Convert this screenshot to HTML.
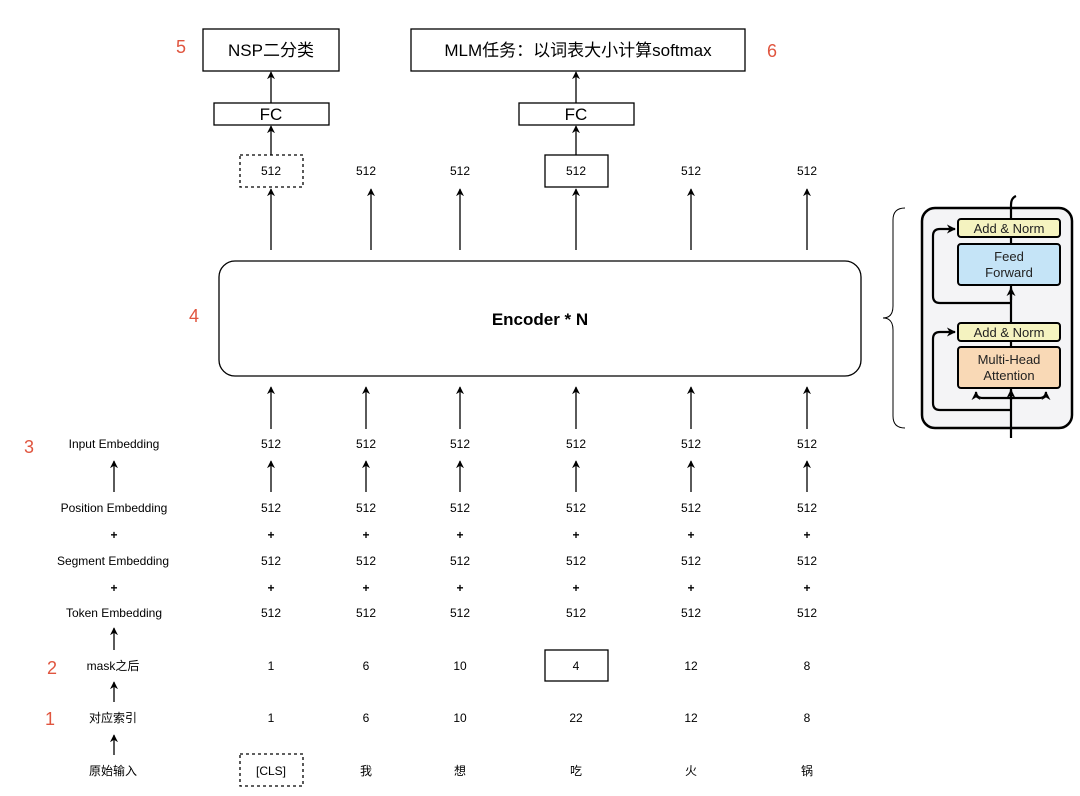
<!DOCTYPE html>
<html><head><meta charset="utf-8"><style>
html,body{margin:0;padding:0;background:#fff;}
svg{display:block;font-family:"Liberation Sans","Noto Sans CJK SC",sans-serif;}
</style></head><body>
<svg width="1080" height="796" viewBox="0 0 1080 796" xmlns="http://www.w3.org/2000/svg">
<defs>
<marker id="a" viewBox="0 0 10 10" refX="9" refY="5" markerWidth="8" markerHeight="8" orient="auto" markerUnits="userSpaceOnUse">
<path d="M0,0 L10,5 L0,10 L3,5 z" fill="#000"/></marker>
<marker id="b" viewBox="0 0 10 10" refX="9" refY="5" markerWidth="9" markerHeight="9" orient="auto" markerUnits="userSpaceOnUse">
<path d="M0,0 L10,5 L0,10 L3,5 z" fill="#000"/></marker>
</defs>
<g fill="#e0553f" font-size="18">
<text x="181" y="53" text-anchor="middle">5</text>
<text x="772" y="57" text-anchor="middle">6</text>
<text x="194" y="322" text-anchor="middle">4</text>
<text x="29" y="453" text-anchor="middle">3</text>
<text x="52" y="674" text-anchor="middle">2</text>
<text x="50" y="725" text-anchor="middle">1</text>
</g>
<g fill="none" stroke="#000" stroke-width="1.3">
<rect x="203" y="29" width="136" height="42"/>
<rect x="411" y="29" width="334" height="42"/>
<rect x="214" y="103" width="115" height="22"/>
<rect x="519" y="103" width="115" height="22"/>
<rect x="240" y="155" width="63" height="32" stroke-dasharray="3,3"/>
<rect x="545" y="155" width="63" height="32"/>
<rect x="219" y="261" width="642" height="115" rx="16"/>
<rect x="545" y="650" width="63" height="31"/>
<rect x="240" y="754" width="63" height="32" stroke-dasharray="3,3"/>
</g>
<g font-size="17" text-anchor="middle">
<text x="271" y="56">NSP二分类</text>
<text x="578" y="56">MLM任务：以词表大小计算softmax</text>
<text x="271" y="120">FC</text>
<text x="576" y="120">FC</text>
</g>
<text x="540" y="325" font-size="17" font-weight="bold" text-anchor="middle">Encoder * N</text>
<g stroke="#000" stroke-width="1.3" marker-end="url(#a)">
<line x1="271" y1="103" x2="271" y2="72"/>
<line x1="576" y1="103" x2="576" y2="72"/>
<line x1="271" y1="155" x2="271" y2="126"/>
<line x1="576" y1="155" x2="576" y2="126"/>
</g>
<g font-size="12" text-anchor="middle">
<text x="271" y="175">512</text><text x="366" y="175">512</text><text x="460" y="175">512</text><text x="576" y="175">512</text><text x="691" y="175">512</text><text x="807" y="175">512</text>
</g>
<g stroke="#000" stroke-width="1.3" marker-end="url(#a)">
<line x1="271" y1="250" x2="271" y2="189"/><line x1="371" y1="250" x2="371" y2="189"/><line x1="460" y1="250" x2="460" y2="189"/><line x1="576" y1="250" x2="576" y2="189"/><line x1="691" y1="250" x2="691" y2="189"/><line x1="807" y1="250" x2="807" y2="189"/>
<line x1="271" y1="429" x2="271" y2="387"/><line x1="366" y1="429" x2="366" y2="387"/><line x1="460" y1="429" x2="460" y2="387"/><line x1="576" y1="429" x2="576" y2="387"/><line x1="691" y1="429" x2="691" y2="387"/><line x1="807" y1="429" x2="807" y2="387"/>
<line x1="114" y1="492" x2="114" y2="461"/>
<line x1="271" y1="492" x2="271" y2="461"/><line x1="366" y1="492" x2="366" y2="461"/><line x1="460" y1="492" x2="460" y2="461"/><line x1="576" y1="492" x2="576" y2="461"/><line x1="691" y1="492" x2="691" y2="461"/><line x1="807" y1="492" x2="807" y2="461"/>
<line x1="114" y1="650" x2="114" y2="628"/>
<line x1="114" y1="702" x2="114" y2="682"/>
<line x1="114" y1="755" x2="114" y2="735"/>
</g>
<g font-size="12" text-anchor="middle">
<text x="114" y="448">Input Embedding</text>
<text x="114" y="512">Position Embedding</text>
<text x="114" y="539" font-weight="bold">+</text>
<text x="113" y="565">Segment Embedding</text>
<text x="114" y="592" font-weight="bold">+</text>
<text x="114" y="617">Token Embedding</text>
<text x="113" y="670">mask之后</text>
<text x="113" y="722">对应索引</text>
<text x="113" y="775">原始输入</text>
</g>
<g font-size="12" text-anchor="middle">
<g transform="translate(0,448)"><text x="271">512</text><text x="366">512</text><text x="460">512</text><text x="576">512</text><text x="691">512</text><text x="807">512</text></g>
<g transform="translate(0,512)"><text x="271">512</text><text x="366">512</text><text x="460">512</text><text x="576">512</text><text x="691">512</text><text x="807">512</text></g>
<g transform="translate(0,539)" font-weight="bold"><text x="271">+</text><text x="366">+</text><text x="460">+</text><text x="576">+</text><text x="691">+</text><text x="807">+</text></g>
<g transform="translate(0,565)"><text x="271">512</text><text x="366">512</text><text x="460">512</text><text x="576">512</text><text x="691">512</text><text x="807">512</text></g>
<g transform="translate(0,592)" font-weight="bold"><text x="271">+</text><text x="366">+</text><text x="460">+</text><text x="576">+</text><text x="691">+</text><text x="807">+</text></g>
<g transform="translate(0,617)"><text x="271">512</text><text x="366">512</text><text x="460">512</text><text x="576">512</text><text x="691">512</text><text x="807">512</text></g>
<g transform="translate(0,670)"><text x="271">1</text><text x="366">6</text><text x="460">10</text><text x="576">4</text><text x="691">12</text><text x="807">8</text></g>
<g transform="translate(0,722)"><text x="271">1</text><text x="366">6</text><text x="460">10</text><text x="576">22</text><text x="691">12</text><text x="807">8</text></g>
<g transform="translate(0,775)"><text x="271">[CLS]</text><text x="366">我</text><text x="460">想</text><text x="576">吃</text><text x="691">火</text><text x="807">锅</text></g>
</g>
<!-- brace -->
<path d="M905,208 Q893,208 893,220 L893,306 Q893,318 883,318 Q893,318 893,330 L893,416 Q893,428 905,428" fill="none" stroke="#000" stroke-width="1"/>
<!-- transformer block -->
<rect x="922" y="208" width="150" height="220" rx="13" fill="#f4f4f6" stroke="#000" stroke-width="2.5"/>
<g stroke="#000" stroke-width="2.2" fill="none">
<path d="M1011,438 L1011,205 Q1011,198 1016,196"/>
<path d="M1011,410 L940,410 Q933,410 933,403 L933,339 Q933,332 940,332 L955,332" marker-end="url(#b)"/>
<path d="M1011,303 L940,303 Q933,303 933,296 L933,236 Q933,229 940,229 L955,229" marker-end="url(#b)"/>
<path d="M1011,300 L1011,288" marker-end="url(#b)"/>
<path d="M1011,400 L1011,390" marker-end="url(#b)"/>
<path d="M1011,398 L983,398 Q976,398 976,392" marker-end="url(#b)"/>
<path d="M1011,398 L1039,398 Q1046,398 1046,392" marker-end="url(#b)"/>
</g>
<g stroke="#000" stroke-width="2">
<rect x="958" y="219" width="102" height="18" rx="3" fill="#f5f3c0"/>
<rect x="958" y="244" width="102" height="41" rx="3" fill="#c5e4f7"/>
<rect x="958" y="323" width="102" height="18" rx="3" fill="#f5f3c0"/>
<rect x="958" y="347" width="102" height="41" rx="3" fill="#f9d9b6"/>
</g>
<g font-size="13" text-anchor="middle" fill="#222">
<text x="1009" y="233">Add &amp; Norm</text>
<text x="1009" y="261">Feed</text>
<text x="1009" y="277">Forward</text>
<text x="1009" y="337">Add &amp; Norm</text>
<text x="1009" y="364">Multi-Head</text>
<text x="1009" y="380">Attention</text>
</g>
</svg>
</body></html>
